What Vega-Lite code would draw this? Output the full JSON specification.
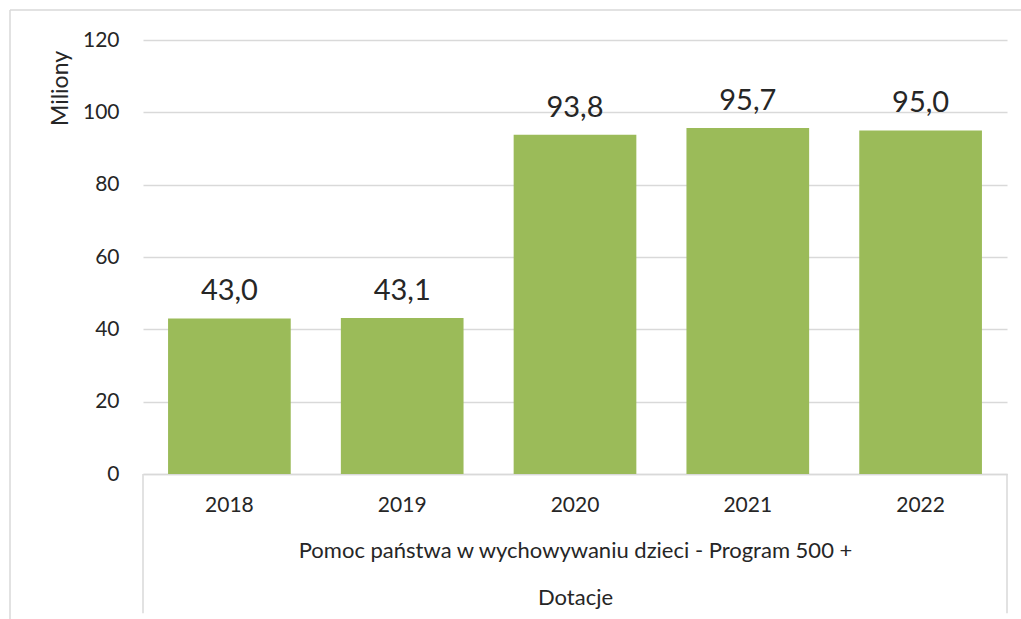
{
  "$schema": "https://vega.github.io/schema/vega-lite/v6.json",
  "width": 864,
  "height": 434,
  "autosize": {"type": "none"},
  "padding": {"left": 143, "top": 40, "right": 14, "bottom": 145},
  "background": "white",
  "config": {
    "view": {"stroke": null},
    "font": "Lato",
    "locale": {"number": {"decimal": ",", "thousands": " ", "grouping": [3], "currency": ["", " zł"]}}
  },
  "data": {"values": [
    {"rok": "2018", "wartosc": 43.0},
    {"rok": "2019", "wartosc": 43.1},
    {"rok": "2020", "wartosc": 93.8},
    {"rok": "2021", "wartosc": 95.7},
    {"rok": "2022", "wartosc": 95.0}
  ]},
  "layer": [
    {
      "mark": {"type": "bar", "color": "#9BBB59"},
      "encoding": {
        "x": {
          "field": "rok", "type": "ordinal", "sort": null,
          "scale": {"paddingInner": 0.29, "paddingOuter": 0.145},
          "axis": {
            "title": ["Pomoc państwa w wychowywaniu dzieci - Program 500 +", "Dotacje"],
            "titleFont": "Lato", "titleFontSize": 22, "titleFontWeight": "normal", "titleColor": "#262626",
            "titleLineHeight": 47, "titlePadding": 25,
            "labelFont": "Lato", "labelFontSize": 21, "labelColor": "#262626", "labelAngle": 0, "labelPadding": 20,
            "ticks": false, "domainColor": "#d9d9d9", "domainWidth": 1.5
          }
        },
        "y": {
          "field": "wartosc", "type": "quantitative",
          "scale": {"domain": [0, 120], "nice": false},
          "axis": {
            "values": [0, 20, 40, 60, 80, 100, 120],
            "title": "Miliony", "titleFont": "Lato", "titleFontSize": 23, "titleFontWeight": "normal", "titleColor": "#262626",
            "titleAlign": "center", "titleY": 48, "titlePadding": 10,
            "labelFont": "Lato", "labelFontSize": 21, "labelColor": "#262626", "labelPadding": 24,
            "ticks": false, "domain": false,
            "gridColor": "#d9d9d9", "gridWidth": 1.5
          }
        }
      }
    },
    {
      "mark": {"type": "text", "baseline": "alphabetic", "dy": -18, "fontSize": 29, "font": "Lato", "color": "#262626"},
      "encoding": {
        "x": {"field": "rok", "type": "ordinal", "sort": null},
        "y": {"field": "wartosc", "type": "quantitative"},
        "text": {"field": "wartosc", "type": "quantitative", "format": ".1f"}
      }
    },
    {
      "data": {"values": [{"a": 1}]},
      "mark": {"type": "rule", "color": "#d9d9d9", "strokeWidth": 1.5, "clip": false},
      "encoding": {"x": {"value": 0}, "y": {"datum": 0}, "y2": {"datum": -38.5}}
    },
    {
      "data": {"values": [{"a": 1}]},
      "mark": {"type": "rule", "color": "#d9d9d9", "strokeWidth": 1.5, "clip": false},
      "encoding": {"x": {"value": "width"}, "y": {"datum": 0}, "y2": {"datum": -38.5}}
    },
    {
      "data": {"values": [{"a": 1}]},
      "mark": {"type": "rule", "color": "#d9d9d9", "strokeWidth": 1.5, "clip": false},
      "encoding": {"x": {"value": -133}, "x2": {"value": 900}, "y": {"datum": 128.3}}
    },
    {
      "data": {"values": [{"a": 1}]},
      "mark": {"type": "rule", "color": "#d9d9d9", "strokeWidth": 1.5, "clip": false},
      "encoding": {"x": {"value": -133}, "y": {"datum": 128.3}, "y2": {"datum": -45}}
    }
  ]
}
